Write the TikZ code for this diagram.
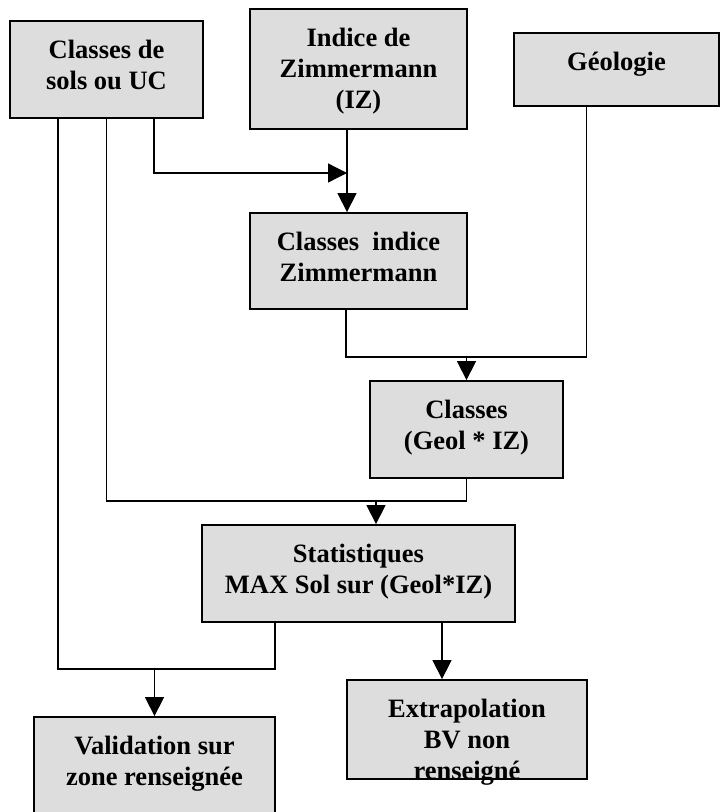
\documentclass[tikz,border=0pt]{standalone}
\usepackage{fontspec}
\setmainfont{Liberation Serif}
\usetikzlibrary{arrows.meta, positioning}
\definecolor{boxgray}{HTML}{DDDDDD}

\begin{document}
\begin{tikzpicture}[
  x=1pt, y=-1pt,
  font=\fontsize{26.5}{31}\selectfont\bfseries,
  box/.style={draw=black, line width=1.8pt, fill=boxgray, align=center,
              inner sep=0pt, text height=68pt, text depth=29pt},
  ln/.style={draw=black, line width=1.3pt},
  ar/.style={ln, -{Triangle[length=19pt, width=19pt]}}]

\useasboundingbox (0,0) rectangle (720,812);

\node[box, minimum width=193pt] (sol) at (106.5,69.5) {Classes de\\sols ou UC};
\node[box, minimum width=217pt, text height=99pt, text depth=21pt] (iz) at (358.5,69) {Indice de\\Zimmermann\\(IZ)};
\node[box, minimum width=205pt, text height=37pt, text depth=36pt] (geo) at (616.5,69.5) {Géologie};
\node[box, minimum width=217pt, text depth=28pt] (ciz) at (358.5,261) {Classes~ indice\\Zimmermann};
\node[box, minimum width=193pt] (cg) at (466.5,429.5) {Classes\\(Geol * IZ)};
\node[box, minimum width=313pt] (stat) at (358.5,573.5) {Statistiques\\MAX Sol sur (Geol*IZ)};
\node[box, minimum width=240pt, text height=99pt, text depth=-2pt] (extrap) at (467,729.5) {Extrapolation\\BV non\\renseigné};
\node[box, minimum width=241pt] (valid) at (154.5,765.5) {Validation sur\\zone renseignée};

% junctions
\coordinate (m1) at (347,173);
\coordinate (m2) at (466.5,357);
\coordinate (m3) at (376,501);
\coordinate (m4) at (154.5,669);

\draw[ar] ([xshift=-11.5pt]iz.south) -- ([xshift=-11.5pt]ciz.north);
\draw[ar] ([xshift=47.5pt]sol.south) |- (m1);
\draw[ln] ([xshift=-12.5pt]ciz.south) |- (m2) -| ([xshift=-30pt]geo.south);
\draw[ar] (m2) -- (cg.north);
\draw[ln] (sol.south) |- (m3) -| (cg.south);
\draw[ar] (m3) -- ([xshift=17.5pt]stat.north);
\draw[ln] ([xshift=-48.5pt]sol.south) |- (m4) -| ([xshift=-83.5pt]stat.south);
\draw[ar] (m4) -- (valid.north);
\draw[ar] ([xshift=83.5pt]stat.south) -- ([xshift=-25pt]extrap.north);
\end{tikzpicture}
\end{document}
